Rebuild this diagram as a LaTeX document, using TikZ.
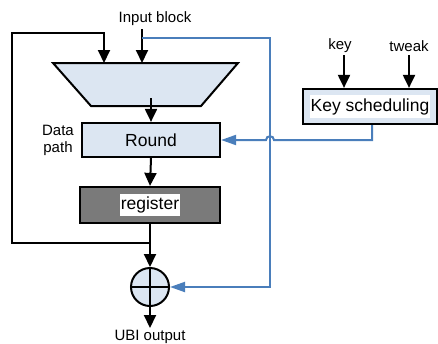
\documentclass[tikz,border=0pt]{standalone}
\usepackage{fontspec}
\setmainfont{Liberation Sans}
\usetikzlibrary{arrows.meta}
\definecolor{linkblue}{HTML}{4A7EBB}
\definecolor{boxfill}{HTML}{DCE6F2}
\definecolor{regfill}{HTML}{7A7A7A}
\begin{document}
\begin{tikzpicture}[x=1pt,y=-1pt,
  wire/.style={line width=2pt},
  arr/.style={wire,-{Triangle[length=13pt,width=12pt]}},
  bluewire/.style={line width=2pt,draw=linkblue},
  bluearr/.style={bluewire,-{Triangle[length=15pt,width=10pt]}},
  block/.style={draw,line width=2.2pt,fill=boxfill,inner sep=0pt,
    font=\fontsize{17.5}{20}\selectfont},
  lbl/.style={inner sep=0pt,font=\fontsize{15}{17}\selectfont},
]
\useasboundingbox (0,0) rectangle (438,343);

% multiplexer
\draw[line width=2pt,fill=boxfill] (53,63) -- (238,63) -- (201,106) -- (91,106) -- cycle;
\coordinate (muxin) at (142,63);
\coordinate (muxfb) at (104,63);
\coordinate (muxout) at (151,98);

% blocks
\node[block,minimum width=138pt,minimum height=34pt] (round) at (151,140) {Round};
\node[block,fill=regfill,minimum width=140pt,minimum height=36pt] (reg) at (150,205)
  {\colorbox{white}{\hspace{-2pt}register\hspace{-2pt}}};
\node[block,minimum width=134pt,minimum height=35pt] (keys) at (370,106.5)
  {\colorbox{white}{\hspace{-2pt}Key scheduling\hspace{-2pt}}};
\node[draw,circle,line width=2pt,fill=boxfill,minimum size=38pt,inner sep=0pt,
  path picture={\draw[line width=2pt]
    (path picture bounding box.north) -- (path picture bounding box.south)
    (path picture bounding box.west) -- (path picture bounding box.east);}]
  (xor) at (150,287) {};

% labels
\node[lbl] (inlbl) at (155,19) {Input block};
\node[lbl,align=center] (dp) at (58,140) {Data\\path};
\node[lbl] (keylbl) at (340,46) {key};
\node[lbl] (tweaklbl) at (409,46) {tweak};
\node[lbl] (outlbl) at (150,337) {UBI output};

% free ends
\coordinate (intop) at (142,29);
\coordinate (inbr) at (142,38);
\coordinate (keytop) at (344,55);
\coordinate (tweaktop) at (409,55);
\coordinate (outend) at (150,328);
\coordinate (fbjoin) at (150,243);

% data path
\draw[arr] (intop) -- (muxin);
\draw[arr] (muxout) -- (round.north);
\draw[arr] (round.south) -- (reg.north);
\draw[arr] (reg.south) -- (xor.north);
\draw[arr] (xor.south) -- (outend);
\draw[arr] (fbjoin) -- (12,243) -- (12,33) -- (104,33) -- (muxfb);

% key inputs
\draw[arr] (keytop) -- (keys.north -| keytop);
\draw[arr] (tweaktop) -- (keys.north -| tweaktop);

% blue feed-forward and round keys
\draw[bluearr] (inbr) -- (270,38) -- (270,287) -- (xor.east);
\draw[bluearr] (keys.south -| 372,0) -- (372,140) -- (274,140)
  .. controls (274,135) and (266,135) .. (266,140) -- (round.east);
\end{tikzpicture}
\end{document}
